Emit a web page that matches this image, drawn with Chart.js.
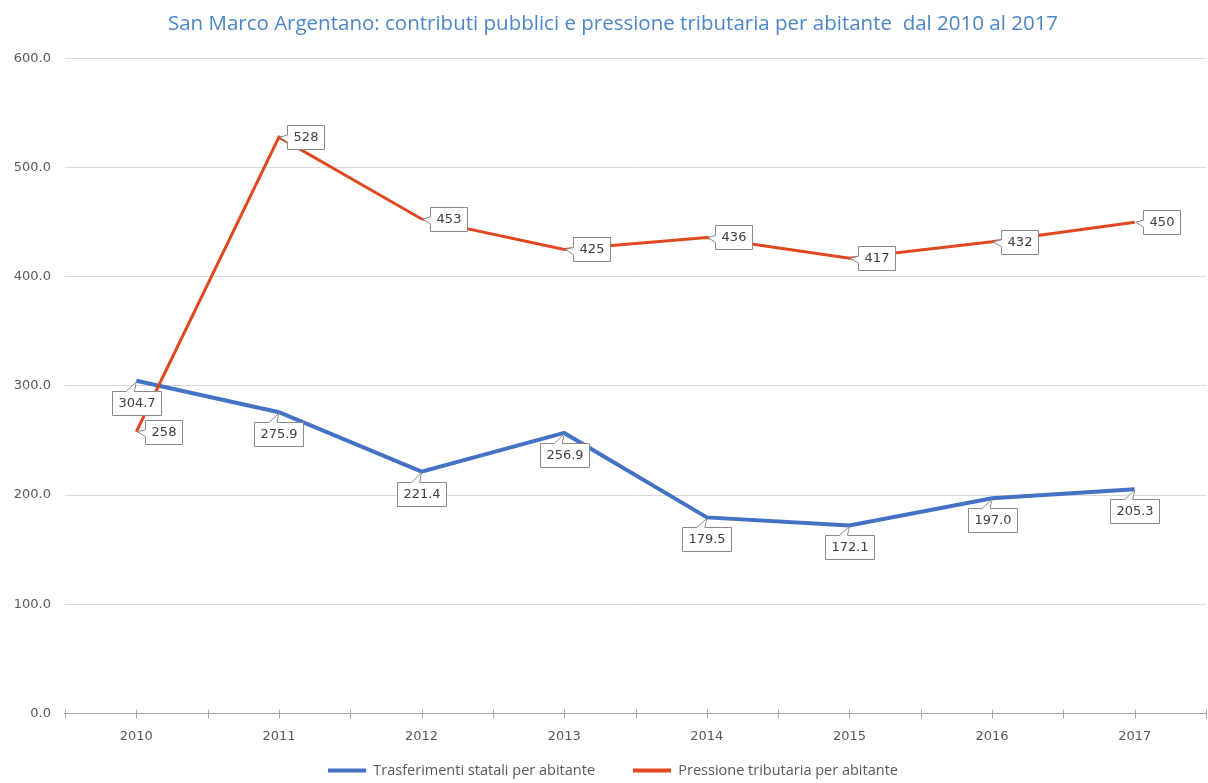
<!DOCTYPE html>
<html>
<head>
<meta charset="utf-8">
<title>San Marco Argentano</title>
<script src="https://cdn.jsdelivr.net/npm/chart.js@4.4.1/dist/chart.umd.min.js"></script>
<style>
  html, body { margin: 0; padding: 0; background: #ffffff; }
  #wrap { width: 1208px; height: 783px; position: relative; }
</style>
</head>
<body>
<div id="wrap"><canvas id="chart"></canvas></div>
<script>
// Years on the x axis
const years = ['2010', '2011', '2012', '2013', '2014', '2015', '2016', '2017'];
// State transfers per inhabitant (euro)
const trasferimenti = [304.7, 275.9, 221.4, 256.9, 179.5, 172.1, 197.0, 205.3];
// Tax burden per inhabitant (euro)
const pressione = [258, 528, 453, 425, 436, 417, 432, 450];
// Value axis range
const yMin = 0, yMax = 600, yStep = 100;

const NUM_FONT = '"DejaVu Sans", sans-serif';
const TEXT_FONT = '"Open Sans", sans-serif';

// Callout boxes with a small pointer aimed at each point
const calloutPlugin = {
  id: 'callouts',
  afterDatasetsDraw(chart) {
    const ctx = chart.ctx;
    [0, 1].forEach(i => {
      const ds = chart.data.datasets[i];
      const c = ds.callout;
      const meta = chart.getDatasetMeta(i);
      ctx.save();
      ctx.font = '13px ' + NUM_FONT;
      meta.data.forEach((pt, j) => {
        const text = c.format(ds.data[j]);
        const w = Math.round(ctx.measureText(text).width + 2 * c.padX);
        const h = c.height;
        const cx = pt.x + c.dx, cy = pt.y + c.dy;
        const l = Math.round(cx - w / 2) + 0.5, t = Math.round(cy - h / 2) + 0.5;
        const r = l + w, b = t + h;
        const px = pt.x, py = pt.y;
        ctx.beginPath();
        if (c.side === 'top') {
          ctx.moveTo(l, t);
          ctx.lineTo(px - 10, t);
          ctx.lineTo(px, py + 1);
          ctx.lineTo(px - 2, t);
          ctx.lineTo(r, t);
          ctx.lineTo(r, b);
          ctx.lineTo(l, b);
        } else {
          ctx.moveTo(l, t);
          ctx.lineTo(r, t);
          ctx.lineTo(r, b);
          ctx.lineTo(l, b);
          ctx.lineTo(l, py + 5);
          ctx.lineTo(px + 1, py);
          ctx.lineTo(l, py - 2);
        }
        ctx.closePath();
        ctx.fillStyle = '#ffffff';
        ctx.fill();
        ctx.lineWidth = 1;
        ctx.strokeStyle = '#8a8a8a';
        ctx.stroke();
        ctx.fillStyle = '#404040';
        ctx.textAlign = 'center';
        ctx.textBaseline = 'middle';
        ctx.fillText(text, (l + r) / 2, (t + b) / 2 + 0.5);
      });
      ctx.restore();
    });
  }
};

// Category axis line with tick marks at centres and boundaries
const axisPlugin = {
  id: 'catAxis',
  beforeDatasetsDraw(chart) {
    const ctx = chart.ctx;
    const xs = chart.scales.x, ys = chart.scales.y;
    const y = Math.round(ys.getPixelForValue(0)) + 0.5;
    const { left, right } = chart.chartArea;
    const half = (xs.getPixelForValue(1) - xs.getPixelForValue(0)) / 2;
    ctx.save();
    ctx.strokeStyle = '#a6a6a6';
    ctx.lineWidth = 1;
    ctx.beginPath();
    ctx.moveTo(left - 1, y);
    ctx.lineTo(right, y);
    for (let k = 0; k <= years.length * 2; k++) {
      const x = Math.round(left + k * half) + 0.5;
      if (x > right + 1) break;
      ctx.moveTo(x, y - 4);
      ctx.lineTo(x, y + 5);
    }
    ctx.stroke();
    ctx.restore();
  }
};

// The legend keeps a wide gap between its entries but sits just under the year labels:
// its box is stretched upward after layout so the entries land near the bottom edge.
// Title and legend are centred over the plot rather than the whole canvas.
const legendLift = 22;
const centreShift = 10;
const placementPlugin = {
  id: 'placement',
  afterLayout(chart) {
    const lg = chart.legend;
    if (lg) {
      lg.top -= legendLift; lg.height += legendLift;
      lg.left += centreShift; lg.right += centreShift;
    }
    const tb = chart.titleBlock;
    if (tb) { tb.left += centreShift; tb.right += centreShift; }
  }
};

new Chart(document.getElementById('chart'), {
  type: 'line',
  data: {
    labels: years,
    datasets: [
      {
        label: 'Trasferimenti statali per abitante',
        data: trasferimenti,
        borderColor: '#4472c4',
        backgroundColor: '#4472c4',
        borderWidth: 4,
        pointRadius: 0,
        tension: 0,
        order: 1,
        callout: { dx: 0, dy: 22, side: 'top', padX: 6, height: 24, format: v => v.toFixed(1) }
      },
      {
        label: 'Pressione tributaria per abitante',
        data: pressione,
        borderColor: '#e0481f',
        backgroundColor: '#e0481f',
        borderWidth: 3,
        pointRadius: 0,
        tension: 0,
        order: 0,
        callout: { dx: 27, dy: 0, side: 'left', padX: 6, height: 24, format: v => String(Math.round(v)) }
      }
    ]
  },
  options: {
    responsive: true,
    maintainAspectRatio: false,
    animation: false,
    layout: { padding: { left: 0, right: 2, top: 0, bottom: 0 } },
    plugins: {
      title: {
        display: true,
        text: 'San Marco Argentano: contributi pubblici e pressione tributaria per abitante  dal 2010 al 2017',
        color: '#4a86c8',
        font: { family: TEXT_FONT, size: 20.5, weight: 'normal' },
        padding: { top: 12, bottom: 21.9 }
      },
      legend: {
        position: 'bottom',
        maxHeight: 35.7,
        labels: {
          color: '#595959',
          font: { family: TEXT_FONT, size: 14.5 },
          boxWidth: 38,
          boxHeight: 4,
          padding: 38,
          sort: (a, b) => a.datasetIndex - b.datasetIndex,
          generateLabels(chart) {
            return Chart.defaults.plugins.legend.labels.generateLabels(chart)
              .map(item => Object.assign(item, { lineWidth: 0 }));
          }
        }
      },
      tooltip: { enabled: false }
    },
    scales: {
      x: {
        offset: true,
        grid: { display: false, drawTicks: false },
        border: { display: false },
        ticks: { color: '#595959', font: { family: NUM_FONT, size: 13 }, padding: 16, maxRotation: 0 },
        afterFit(scale) { scale.height = 34; }
      },
      y: {
        min: yMin,
        max: yMax,
        ticks: {
          stepSize: yStep,
          color: '#595959',
          font: { family: NUM_FONT, size: 13 },
          padding: 14,
          callback: v => Number(v).toFixed(1)
        },
        grid: { color: '#d9d9d9', drawTicks: false, lineWidth: 1 },
        border: { display: false },
        afterFit(scale) { scale.width = 65; }
      }
    }
  },
  plugins: [axisPlugin, calloutPlugin, placementPlugin]
});
</script>
</body>
</html>
